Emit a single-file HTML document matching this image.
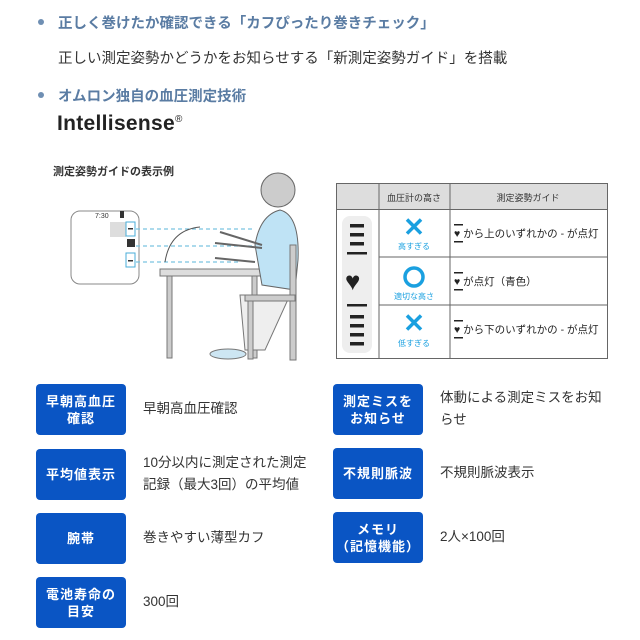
<!DOCTYPE html>
<html><head><meta charset="utf-8"><style>
body{margin:0;width:640px;height:640px;background:#fff;position:relative;overflow:hidden;font-family:"Liberation Sans","Noto Sans CJK JP",sans-serif;color:#333}
.a{position:absolute;white-space:nowrap}
.h{color:#5a7ca3;font-weight:bold;font-size:14.5px}
.dot{position:absolute;width:6px;height:6px;border-radius:50%;background:#6f8fb3}
.b{position:absolute;width:90px;height:51px;background:#0a55c4;border-radius:4px;color:#fff;font-weight:bold;font-size:13px;line-height:17px;display:flex;align-items:center;justify-content:center;text-align:center;letter-spacing:1px}
.t{position:absolute;font-size:13.5px;line-height:22px;color:#333}
</style></head><body>
<div class="dot" style="left:38px;top:19px"></div>
<div class="a h" style="left:58px;top:12px">正しく巻けたか確認できる「カフぴったり巻きチェック」</div>
<div class="a" style="left:58px;top:47px;font-size:14.5px">正しい測定姿勢かどうかをお知らせする「新測定姿勢ガイド」を搭載</div>
<div class="dot" style="left:38px;top:92px"></div>
<div class="a h" style="left:58px;top:85px">オムロン独自の血圧測定技術</div>
<div class="a" style="left:57px;top:112px;font-size:21px;font-weight:bold;color:#222;letter-spacing:0.3px">Intellisense<sup style="font-size:10px;font-weight:normal">®</sup></div>
<div class="a" style="left:53px;top:163px;font-size:11px;font-weight:bold;color:#333">測定姿勢ガイドの表示例</div>

<svg class="a" style="left:0;top:150px" width="330" height="220" viewBox="0 150 330 220">
<rect x="71" y="211" width="68" height="73" rx="9" fill="#fff" stroke="#888"/>
<text x="95" y="218" font-size="7" fill="#333" font-family="Liberation Sans">7:30</text>
<rect x="120" y="211" width="4" height="7" fill="#333"/>
<rect x="110" y="222" width="16" height="15" fill="#ddd"/>
<rect x="126" y="222" width="9" height="14" fill="#fff" stroke="#4aaed8"/>
<rect x="128" y="228" width="5" height="1.5" fill="#333"/>
<rect x="127" y="239" width="8" height="8" fill="#333"/>
<rect x="126" y="253" width="9" height="14" fill="#fff" stroke="#4aaed8"/>
<rect x="128" y="260" width="5" height="1.5" fill="#333"/>
<g stroke="#7ac3e0" stroke-dasharray="4 3" stroke-width="1.3"><line x1="136" y1="229" x2="255" y2="229"/><line x1="136" y1="246" x2="265" y2="246"/><line x1="136" y1="262" x2="240" y2="262"/></g>
<path d="M165 262 Q170 230 200 227" fill="none" stroke="#555"/>
<rect x="160" y="269" width="107" height="7" fill="#ddd" stroke="#777"/>
<rect x="167" y="276" width="5" height="82" fill="#ccc" stroke="#777"/>
<rect x="252" y="276" width="5" height="82" fill="#ccc" stroke="#777"/>
<circle cx="278" cy="190" r="17" fill="#ccc" stroke="#666"/>
<path d="M255 245 Q260 215 280 210 Q300 215 298 260 L295 290 L262 285 Z" fill="#bfe3f5" stroke="#666"/>
<path d="M240 295 L290 295 L265 350 L245 350 Z" fill="#eee" stroke="#777"/>
<rect x="290" y="245" width="6" height="115" fill="#ccc" stroke="#777"/>
<rect x="245" y="295" width="50" height="6" fill="#ccc" stroke="#777"/>
<rect x="248" y="301" width="5" height="58" fill="#ccc" stroke="#777"/>
<ellipse cx="228" cy="354" rx="18" ry="5" fill="#cde6f3" stroke="#777"/>
<path d="M220 232 L262 245 M215 243 L262 248 M215 258 L255 262" stroke="#666" stroke-width="2"/>
</svg>

<svg class="a" style="left:336px;top:183px" width="273" height="178">
<rect x="0.5" y="0.5" width="271" height="175" fill="#fff" stroke="#666"/>
<rect x="0.5" y="0.5" width="271" height="26" fill="#ddd" stroke="#666"/>
<line x1="43" y1="0" x2="43" y2="176" stroke="#666"/>
<line x1="114" y1="0" x2="114" y2="176" stroke="#666"/>
<line x1="43" y1="74" x2="272" y2="74" stroke="#666"/><line x1="43" y1="122" x2="272" y2="122" stroke="#666"/>
<rect x="6" y="33" width="30" height="137" rx="8" fill="#eee"/>
<g fill="#222"><rect x="14" y="41" width="14" height="3.5"/><rect x="14" y="50" width="14" height="3.5"/><rect x="14" y="59" width="14" height="3.5"/><rect x="11" y="69" width="20" height="2.5"/><rect x="11" y="121" width="20" height="2.5"/><rect x="14" y="132" width="14" height="3.5"/><rect x="14" y="141" width="14" height="3.5"/><rect x="14" y="150" width="14" height="3.5"/><rect x="14" y="159" width="14" height="3.5"/></g>
<text x="9" y="107" font-size="26" fill="#222">♥</text>
<g font-family="Liberation Sans,Noto Sans CJK JP,sans-serif">
<text x="78" y="18" font-size="9" text-anchor="middle" fill="#333">血圧計の高さ</text>
<text x="192" y="18" font-size="9" text-anchor="middle" fill="#333">測定姿勢ガイド</text>
<text x="78" y="53" font-size="26" font-weight="bold" text-anchor="middle" fill="#1aa0e0">✕</text>
<text x="78" y="66" font-size="8" text-anchor="middle" fill="#1aa0e0">高すぎる</text>
<circle cx="78" cy="94" r="9" fill="none" stroke="#1aa0e0" stroke-width="3.5"/>
<text x="78" y="116" font-size="8" text-anchor="middle" fill="#1aa0e0">適切な高さ</text>
<text x="78" y="149" font-size="26" font-weight="bold" text-anchor="middle" fill="#1aa0e0">✕</text>
<text x="78" y="163" font-size="8" text-anchor="middle" fill="#1aa0e0">低すぎる</text>
<g font-size="10.5" fill="#222">
<text x="118" y="54">♥ から上のいずれかの - が点灯</text>
<text x="118" y="102">♥ が点灯（青色）</text>
<text x="118" y="150">♥ から下のいずれかの - が点灯</text></g>
<g fill="#222"><rect x="118" y="41" width="9" height="1.5"/><rect x="118" y="58" width="9" height="1.5"/><rect x="118" y="89" width="9" height="1.5"/><rect x="118" y="106" width="9" height="1.5"/><rect x="118" y="137" width="9" height="1.5"/><rect x="118" y="154" width="9" height="1.5"/></g>
</g></svg>

<div class="b" style="left:36px;top:384px">早朝高血圧<br>確認</div>
<div class="t" style="left:143px;top:398px">早朝高血圧確認</div>
<div class="b" style="left:36px;top:449px">平均値表示</div>
<div class="t" style="left:143px;top:452px">10分以内に測定された測定<br>記録（最大3回）の平均値</div>
<div class="b" style="left:36px;top:513px">腕帯</div>
<div class="t" style="left:143px;top:527px">巻きやすい薄型カフ</div>
<div class="b" style="left:36px;top:577px">電池寿命の<br>目安</div>
<div class="t" style="left:143px;top:591px">300回</div>

<div class="b" style="left:333px;top:384px">測定ミスを<br>お知らせ</div>
<div class="t" style="left:440px;top:387px">体動による測定ミスをお知<br>らせ</div>
<div class="b" style="left:333px;top:448px">不規則脈波</div>
<div class="t" style="left:440px;top:462px">不規則脈波表示</div>
<div class="b" style="left:333px;top:512px">メモリ<br>（記憶機能）</div>
<div class="t" style="left:440px;top:526px">2人×100回</div>
</body></html>
